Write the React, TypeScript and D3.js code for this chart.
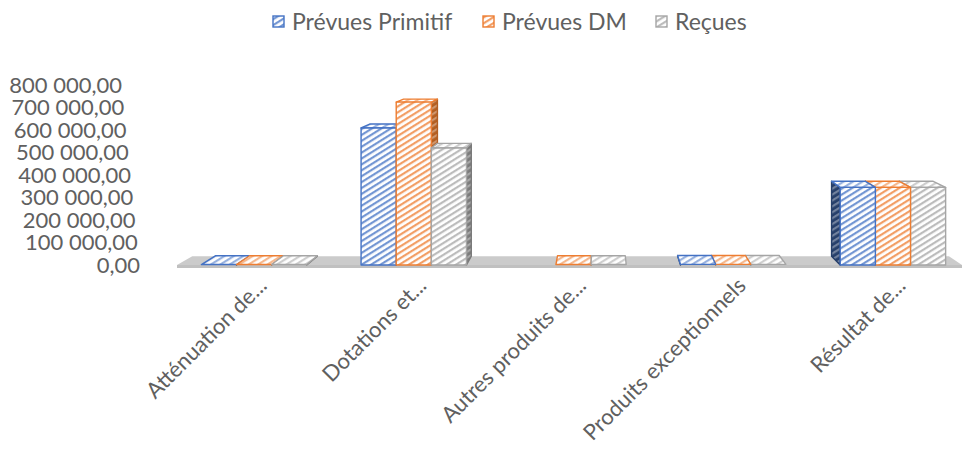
import React, { useEffect, useRef } from 'react';
import * as d3 from 'd3';

// Chart data
const categories = [
  'Atténuation de...',
  'Dotations et...',
  'Autres produits de...',
  'Produits exceptionnels',
  'Résultat de...',
];
const seriesNames = ['Prévues Primitif', 'Prévues DM', 'Reçues'];
const prevuesPrimitif: (number | null)[] = [2000, 609000, null, 3000, 345000];
const prevuesDM: (number | null)[] = [2000, 724000, 2000, 3000, 345000];
const recues: (number | null)[] = [2000, 520000, 2000, 3000, 345000];
const yTicks = [0, 100000, 200000, 300000, 400000, 500000, 600000, 700000, 800000];

const seriesValues = [prevuesPrimitif, prevuesDM, recues];
const colors = ['#4472C4', '#ED7D31', '#A5A5A5'];
const sideColors = ['#263F6A', '#B35E21', '#7A7A7A'];

const W = 964;
const H = 459;
const FONT = 'Lato, "Open Sans", sans-serif';
const TEXT = '#606060';

// simple one-point perspective for the 3D look
const VP = [600, 19];
const K = 0.036;
const back = (x: number, y: number): [number, number] => [x + K * (VP[0] - x), y + K * (VP[1] - y)];

const fmt = d3.formatLocale({ decimal: ',', thousands: ' ', grouping: [3], currency: ['', ''] }).format(',.2f');

const App: React.FC = () => {
  const svgRef = useRef<SVGSVGElement>(null);

  useEffect(() => {
    if (!svgRef.current) return;
    const svg = d3.select(svgRef.current);
    svg.selectAll('*').remove();

    const y = d3.scaleLinear().domain([0, 800000]).range([265, 85]);
    const x0 = d3.scaleBand<string>().domain(categories).range([179, 968]).paddingInner(0.34).paddingOuter(0.14);
    const x1 = d3.scaleBand<number>().domain([0, 1, 2]).range([0, x0.bandwidth()]);
    const yBase = y(0);

    // hatch patterns
    const defs = svg.append('defs');
    const makePattern = (id: string, bg: string, fg: string, opacity: number) => {
      const p = defs.append('pattern')
        .attr('id', id)
        .attr('patternUnits', 'userSpaceOnUse')
        .attr('width', 5)
        .attr('height', 5)
        .attr('patternTransform', 'rotate(-32)');
      p.append('rect').attr('width', 5).attr('height', 5).attr('fill', bg);
      p.append('rect').attr('y', 0).attr('width', 5).attr('height', 2.2).attr('fill', fg).attr('opacity', opacity);
    };
    colors.forEach((c, i) => {
      makePattern(`front-${i}`, '#ffffff', c, 0.75);
      makePattern(`top-${i}`, '#ffffff', c, 0.55);
      makePattern(`side-${i}`, sideColors[i], '#ffffff', 0.35);
    });

    // floor
    const fx0 = 177;
    const fx1 = 962;
    const floorPts = [[fx0, yBase], [fx1, yBase], back(fx1, yBase), back(fx0, yBase)];
    svg.append('polygon')
      .attr('points', floorPts.map(p => p.join(',')).join(' '))
      .attr('fill', '#CBCBCB');
    svg.append('rect')
      .attr('x', fx0).attr('y', yBase).attr('width', fx1 - fx0).attr('height', 3)
      .attr('fill', '#C0C0C0');

    // bars
    const poly = (g: d3.Selection<SVGGElement, unknown, null, undefined>, pts: number[][], fill: string, stroke: string) => {
      g.append('polygon')
        .attr('points', pts.map(p => p.join(',')).join(' '))
        .attr('fill', fill)
        .attr('stroke', stroke)
        .attr('stroke-width', 1.4)
        .attr('stroke-linejoin', 'round');
    };

    const barsG = svg.append('g');
    categories.forEach((cat, ci) => {
      const gx = x0(cat)!;
      const center = gx + x0.bandwidth() / 2;
      let order = [0, 1, 2];
      if (center > VP[0]) order = [2, 1, 0];
      order.forEach(si => {
        const v = seriesValues[si][ci];
        if (v == null) return;
        const bx0 = gx + x1(si)!;
        const bx1 = bx0 + x1.bandwidth();
        const yt = y(v);
        const g = barsG.append('g');
        if (bx1 < VP[0]) {
          poly(g, [[bx1, yt], [bx1, yBase], back(bx1, yBase), back(bx1, yt)], `url(#side-${si})`, sideColors[si]);
        }
        if (bx0 > VP[0]) {
          poly(g, [[bx0, yt], [bx0, yBase], back(bx0, yBase), back(bx0, yt)], `url(#side-${si})`, sideColors[si]);
        }
        poly(g, [[bx0, yt], [bx1, yt], back(bx1, yt), back(bx0, yt)], `url(#top-${si})`, colors[si]);
        if (yBase - yt > 0.8) {
          poly(g, [[bx0, yt], [bx1, yt], [bx1, yBase], [bx0, yBase]], `url(#front-${si})`, colors[si]);
        }
      });
    });

    // y axis labels (slanted along the wall edge)
    svg.append('g')
      .selectAll('text')
      .data(yTicks)
      .join('text')
      .attr('x', d => 140 - 0.1 * (yBase - y(d)))
      .attr('y', d => y(d))
      .attr('dy', '0.35em')
      .attr('text-anchor', 'end')
      .attr('font-family', FONT)
      .attr('font-size', 22)
      .attr('fill', TEXT)
      .text(d => fmt(d));

    // x axis labels
    svg.append('g')
      .selectAll('text')
      .data(categories)
      .join('text')
      .attr('transform', d => `translate(${x0(d)! + x0.bandwidth() / 2 + 14},${yBase + 22}) rotate(-45)`)
      .attr('text-anchor', 'end')
      .attr('font-family', FONT)
      .attr('font-size', 22)
      .attr('fill', TEXT)
      .text(d => d);

    // legend
    const legendX = [273, 483, 656];
    const lg = svg.append('g');
    seriesNames.forEach((name, i) => {
      lg.append('rect')
        .attr('x', legendX[i]).attr('y', 16).attr('width', 11).attr('height', 11)
        .attr('fill', `url(#front-${i})`)
        .attr('stroke', colors[i]).attr('stroke-width', 1.4);
      lg.append('text')
        .attr('x', legendX[i] + 19).attr('y', 22)
        .attr('dy', '0.35em')
        .attr('font-family', FONT)
        .attr('font-size', 23)
        .attr('fill', TEXT)
        .text(name);
    });
  }, []);

  return (
    <svg
      ref={svgRef}
      width={W}
      height={H}
      viewBox={`0 0 ${W} ${H}`}
      style={{ position: 'absolute', left: 0, top: 0, background: '#fff' }}
    />
  );
};

export default App;
